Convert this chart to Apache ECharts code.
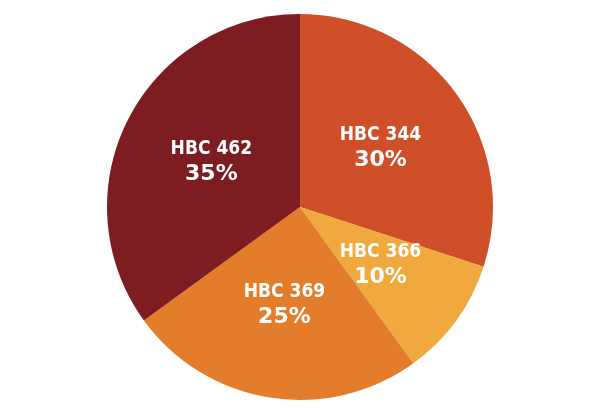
<!DOCTYPE html>
<html><head><meta charset="utf-8">
<script src="https://cdn.jsdelivr.net/npm/echarts@6/dist/echarts.min.js"></script>
<style>html,body{margin:0;background:#fff}#c{width:600px;height:410px}</style>
</head><body><div id="c"></div>
<script>
const categories = ['HBC 344','HBC 366','HBC 369','HBC 462'];
const values = [30,10,25,35];
const colors = ['#cf4f29','#f0a93d','#e47d2b','#7d1d21'];
const chart = echarts.init(document.getElementById('c'));
chart.setOption({
  animation:false,
  series:[{
    type:'pie', center:[300,207], radius:[0,193], startAngle:90, clockwise:true,
    data: categories.map((n,i)=>({name:n,value:values[i],itemStyle:{color:colors[i]}})),
    itemStyle:{borderWidth:0},
    label:{position:'inner', formatter:p=>'{a|'+p.name+'}\n{b|'+p.value+'%}',
      rich:{a:{color:'#fff',fontFamily:'Liberation Sans Narrow, DejaVu Sans Condensed, sans-serif',fontWeight:'bold',fontSize:19,lineHeight:24},
            b:{color:'#fff',fontFamily:'DejaVu Sans, sans-serif',fontWeight:'bold',fontSize:22,lineHeight:26}}},
    labelLine:{show:false}
  }]
});
</script></body></html>
